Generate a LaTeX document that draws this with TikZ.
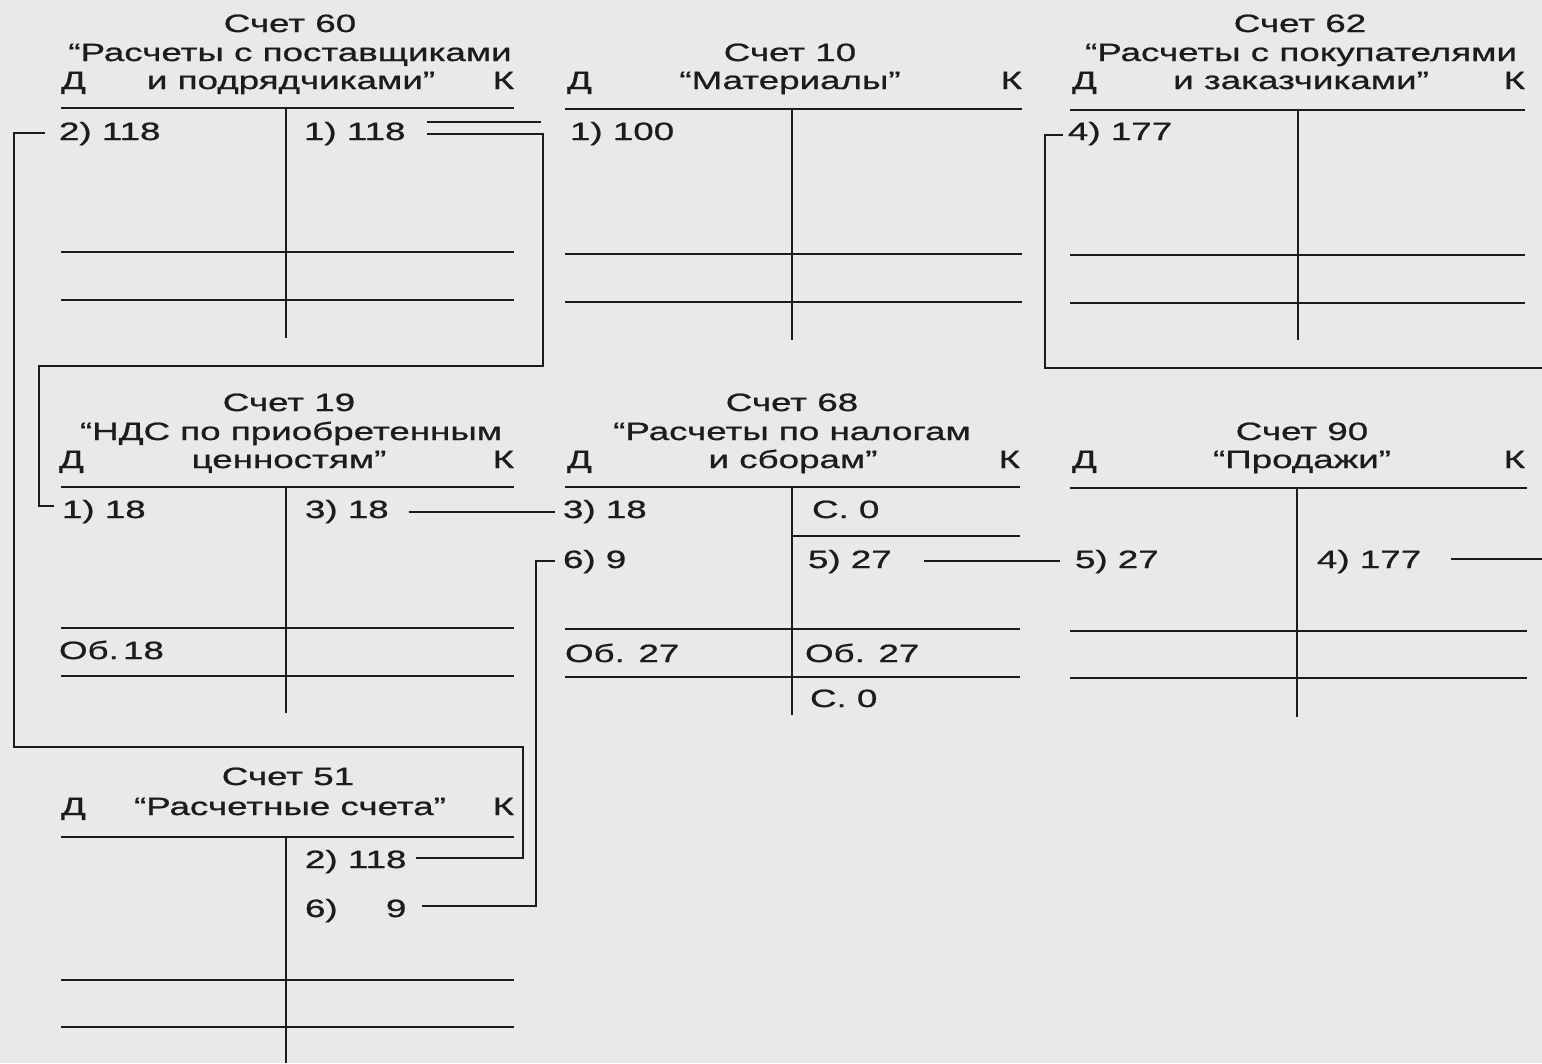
\documentclass[tikz,border=0pt]{standalone}
\usepackage{fontspec}
\setmainfont[FakeStretch=1.47,FakeBold=0.9]{Liberation Sans}
\definecolor{bg}{RGB}{233,233,233}
\definecolor{ink}{RGB}{28,28,28}
\begin{document}
\begin{tikzpicture}[x=1pt,y=-1pt,
  tl/.style={line width=2.8pt,draw=ink},
  cn/.style={line width=2.6pt,draw=ink,line join=miter},
  tx/.style={inner sep=0pt,outer sep=0pt,text=ink,font=\fontsize{25}{28}\selectfont},
  ttl/.style={tx,anchor=base},
  lft/.style={tx,anchor=base west},
  rgt/.style={tx,anchor=base east}]
\fill[bg] (0,0) rectangle (1542,1063);
\useasboundingbox (0,0) rectangle (1542,1063);

% ---------- T-account rulings ----------
% 60
\draw[tl] (61,108) -- (514,108) (286,108) -- (286,338) (61,252) -- (514,252) (61,300) -- (514,300);
% 10
\draw[tl] (565,109) -- (1022,109) (792,109) -- (792,340) (565,254) -- (1022,254) (565,302) -- (1022,302);
% 62
\draw[tl] (1070,110) -- (1525,110) (1298,110) -- (1298,340) (1070,255) -- (1525,255) (1070,303) -- (1525,303);
% 19
\draw[tl] (61,487) -- (514,487) (286,487) -- (286,713) (61,628) -- (514,628) (61,676) -- (514,676);
% 68
\draw[tl] (565,487) -- (1020,487) (792,487) -- (792,715) (792,536) -- (1020,536) (565,629) -- (1020,629) (565,677) -- (1020,677);
% 90
\draw[tl] (1070,488) -- (1527,488) (1297,488) -- (1297,717) (1070,631) -- (1527,631) (1070,678) -- (1527,678);
% 51
\draw[tl] (61,837) -- (514,837) (286,837) -- (286,1063) (61,980) -- (514,980) (61,1027) -- (514,1027);

% ---------- Titles ----------
% 60
\node[ttl] (t60a) at (290,32) {Счет 60};
\node[ttl] (t60b) at (290,61) {“Расчеты с поставщиками};
\node[ttl] (t60c) at (291,89) {и подрядчиками”};
\node[lft] (t60d) at (61,89) {Д};
\node[rgt] (t60k) at (514,89) {К};
% 10
\node[ttl] (t10a) at (790,61) {Счет 10};
\node[ttl] (t10b) at (790,89) {“Материалы”};
\node[lft] (t10d) at (567,89) {Д};
\node[rgt] (t10k) at (1022,89) {К};
% 62
\node[ttl] (t62a) at (1300,32) {Счет 62};
\node[ttl] (t62b) at (1301,61) {“Расчеты с покупателями};
\node[ttl] (t62c) at (1301,89) {и заказчиками”};
\node[lft] (t62d) at (1072,89) {Д};
\node[rgt] (t62k) at (1525,89) {К};
% 19
\node[ttl] (t19a) at (289,411) {Счет 19};
\node[ttl] (t19b) at (291,440) {“НДС по приобретенным};
\node[ttl] (t19c) at (289,468) {ценностям”};
\node[lft] (t19d) at (59,468) {Д};
\node[rgt] (t19k) at (514,468) {К};
% 68
\node[ttl] (t68a) at (792,411) {Счет 68};
\node[ttl] (t68b) at (792,440) {“Расчеты по налогам};
\node[ttl] (t68c) at (793,468) {и сборам”};
\node[lft] (t68d) at (567,468) {Д};
\node[rgt] (t68k) at (1020,468) {К};
% 90
\node[ttl] (t90a) at (1302,440) {Счет 90};
\node[ttl] (t90b) at (1302,468) {“Продажи”};
\node[lft] (t90d) at (1072,468) {Д};
\node[rgt] (t90k) at (1525,468) {К};
% 51
\node[ttl] (t51a) at (288,785) {Счет 51};
\node[ttl] (t51b) at (290,815) {“Расчетные счета”};
\node[lft] (t51d) at (61,815) {Д};
\node[rgt] (t51k) at (514,815) {К};

% ---------- Entries ----------
\node[lft] (e60d2) at (59,140) {2) 118};
\node[lft] (e60c1) at (304,140) {1) 118};
\node[lft] (e10d1) at (570,140) {1) 100};
\node[lft] (e62d4) at (1068,140) {4) 177};

\node[lft] (e19d1) at (62,518) {1) 18};
\node[lft] (e19c3) at (305,518) {3) 18};
\node[lft] (e19ob) at (59,659) {Об.\,18};

\node[lft] (e68d3) at (563,518) {3) 18};
\node[lft] (e68s0) at (812,518) {С. 0};
\node[lft] (e68d6) at (563,568) {6) 9};
\node[lft] (e68c5) at (808,568) {5) 27};
\node[lft] (e68obd) at (565,662) {Об. 27};
\node[lft] (e68obk) at (805,662) {Об. 27};
\node[lft] (e68s1) at (810,707) {С. 0};

\node[lft] (e90d5) at (1075,568) {5) 27};
\node[lft] (e90c4) at (1317,568) {4) 177};

\node[lft] (e51c2) at (305,868) {2) 118};
\node[lft] (e51c6) at (305,917) {6)\phantom{ 11}9};

% ---------- Connector corners ----------
\coordinate (kB1) at (543,366);
\coordinate (kB2) at (39,366);
\coordinate (kC1) at (14,747);
\coordinate (kC2) at (523,747);
\coordinate (kG0) at (1045,368);
\coordinate (edgeA) at (1542,368);
\coordinate (edgeB) at (1542,559);

% ---------- Connectors ----------
% 1) 118 -> 1) 100
\draw[cn] ([xshift=22pt,yshift=18pt]e60c1.base east) -- ([xshift=-29pt,yshift=18pt]e10d1.base west);
% 1) 118 -> 1) 18
\draw[cn] ([xshift=22pt,yshift=6pt]e60c1.base east) -| (kB1) -- (kB2) |- ([xshift=-8pt,yshift=12pt]e19d1.base west);
% 2) 118 (60) -> 2) 118 (51)
\draw[cn] ([xshift=-14pt,yshift=7pt]e60d2.base west) -| (kC1) -- (kC2) |- ([xshift=10pt,yshift=10pt]e51c2.base east);
% 3) 18 -> 3) 18
\draw[cn] ([xshift=20pt,yshift=6pt]e19c3.base east) -- ([xshift=-8pt,yshift=6pt]e68d3.base west);
% 6) 9 (51) -> 6) 9 (68)
\draw[cn] ([xshift=16pt,yshift=11pt]e51c6.base east) -| ([xshift=-27pt,yshift=7pt]e68d6.base west) -- ([xshift=-8pt,yshift=7pt]e68d6.base west);
% 5) 27 -> 5) 27
\draw[cn] ([xshift=32pt,yshift=7pt]e68c5.base east) -- ([xshift=-15pt,yshift=7pt]e90d5.base west);
% 4) 177 (90) -> edge, edge -> 4) 177 (62)
\draw[cn] ([xshift=30pt,yshift=9pt]e90c4.base east) -- (edgeB);
\draw[cn] (edgeA) -- (kG0) |- ([xshift=-5pt,yshift=5pt]e62d4.base west);
\end{tikzpicture}
\end{document}
